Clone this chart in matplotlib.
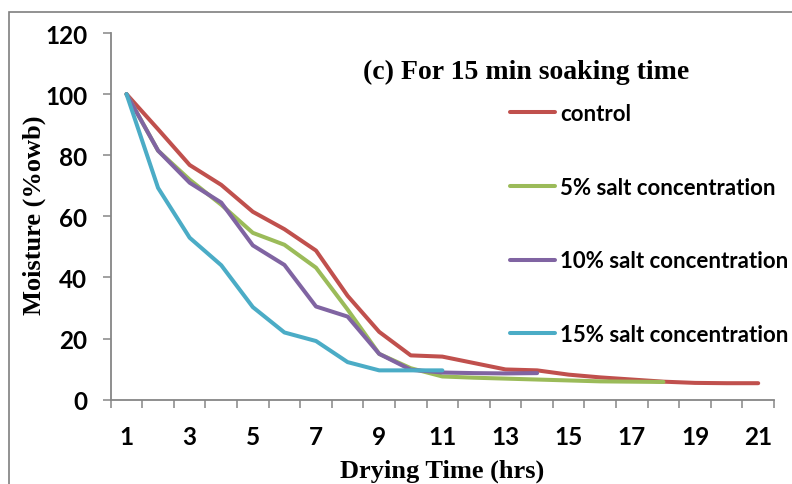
import numpy as np
import matplotlib.pyplot as plt
from matplotlib.patches import Rectangle

# drying time in hours and moisture content (%wb) for each treatment
hours = np.arange(1, 22)
control = [100, 88.5, 76.8, 70.3, 61.5, 55.8, 48.8, 34.0, 22.2, 14.5, 14.1,
           12.0, 9.9, 9.6, 8.2, 7.3, 6.6, 5.9, 5.5, 5.4, 5.4]
salt5 = [100, 81.5, 72.0, 63.8, 54.6, 50.7, 43.2, 29.5, 15.0, 10.3, 7.6,
         7.2, 6.9, 6.6, 6.3, 6.0, 5.9, 5.8]
salt10 = [100, 81.5, 71.0, 64.5, 50.5, 44.1, 30.5, 27.2, 15.0, 9.8, 8.9,
          8.7, 8.6, 8.7]
salt15 = [100, 69.3, 53.0, 44.0, 30.3, 22.0, 19.2, 12.3, 9.6, 9.6, 9.6]

series = [
    ("control", control, "#C0504D"),
    ("5% salt concentration", salt5, "#9BBB59"),
    ("10% salt concentration", salt10, "#8064A2"),
    ("15% salt concentration", salt15, "#4BACC6"),
]
yticks = [0, 20, 40, 60, 80, 100, 120]
xlabels = [1, 3, 5, 7, 9, 11, 13, 15, 17, 19, 21]

W, H = 792, 485
fig = plt.figure(figsize=(W / 100, H / 100), dpi=100)
ax = fig.add_axes([110.7 / W, 1 - 400.7 / H, 663.3 / W, 366.7 / H])

# outer chart frame (clipped at right/bottom)
fig.patches.append(Rectangle((9 / W, -0.1), 2.0, 1 - 13 / H + 0.1,
                             transform=fig.transFigure, fill=False,
                             edgecolor="#7f7f7f", linewidth=1.2))

for name, vals, col in series:
    ax.plot(hours[:len(vals)], vals, color=col, lw=2.9, label=name,
            solid_capstyle="round", solid_joinstyle="round")

ax.set_xlim(0.5, 21.5)
ax.set_ylim(0, 120)

tick_font = dict(family="Lato", weight="bold", size=17.5)
gray = "#868686"
for s in ["top", "right"]:
    ax.spines[s].set_visible(False)
for s in ["left", "bottom"]:
    ax.spines[s].set_color(gray)
    ax.spines[s].set_linewidth(1.3)

ax.set_yticks(yticks)
ax.set_yticklabels([str(v) for v in yticks], fontdict=tick_font)
ax.tick_params(axis="y", direction="out", length=6, width=1.1, color=gray, pad=11)

# category boundaries carry the tick marks, odd hours carry the labels
ax.set_xticks(np.arange(0.5, 22, 1.0))
ax.set_xticklabels([])
ax.tick_params(axis="x", which="major", direction="out", length=6, width=1.1, color=gray)
ax.set_xticks(xlabels, minor=True)
ax.set_xticklabels([str(v) for v in xlabels], minor=True, fontdict=tick_font)
ax.tick_params(axis="x", which="minor", length=0, pad=18)

ax.set_xlabel("Drying Time (hrs)", family="Liberation Serif", weight="bold",
              size=19, va="center")
ax.xaxis.set_label_coords(0.4995, -0.192)
ax.set_ylabel("Moisture (%owb)", family="Liberation Serif", weight="bold",
              size=19, va="center")
ax.yaxis.set_label_coords(-0.115, 0.506)

ax.text(0.626, 0.896, "(c) For 15 min soaking time", transform=ax.transAxes,
        ha="center", va="center", family="Liberation Serif", weight="bold",
        size=20)

leg = ax.legend(loc="upper left", bbox_to_anchor=(510 / W, 1 - 104 / H),
                bbox_transform=fig.transFigure, frameon=False,
                prop=dict(family="Lato", weight="bold", size=16),
                handlelength=2.03, handletextpad=0.22, labelspacing=2.37,
                borderpad=0, borderaxespad=0)

fig.savefig("out.png", dpi=100)
